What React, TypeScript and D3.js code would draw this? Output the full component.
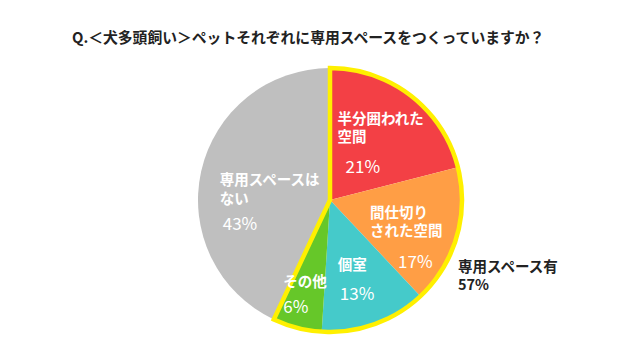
import * as d3 from "d3";
import { useEffect, useRef } from "react";

const categories = [
  ["半分囲われた", "空間"],
  ["間仕切り", "された空間"],
  ["個室"],
  ["その他"],
  ["専用スペースは", "ない"],
];
const values = [21, 17, 13, 6, 43];
const colors = ["#f34045", "#ff9e45", "#45caca", "#66c729", "#bfbfbf"];
// slices that make up the "has space" total (outlined in yellow)
const highlighted = [0, 1, 2, 3];
const highlightLabel = "専用スペース有";
const title = "Q.＜犬多頭飼い＞ペットそれぞれに専用スペースをつくっていますか？";

// label nudges relative to each slice centroid: [nameDx, nameDy, pctDx, pctDy]
const labelNudge = [
  [-41, -20, -33, 28],
  [-36, -11, -8, 38],
  [-19, -11, -17, 18],
  [-27, 4, -27, 29],
  [-33, -4, -30, 40],
];

const W = 640;
const H = 360;
const FONT = "'Noto Sans CJK JP', 'Noto Sans', sans-serif";

export default function App() {
  const svgRef = useRef<SVGSVGElement>(null);

  useEffect(() => {
    const svg = d3.select(svgRef.current);
    svg.selectAll("*").remove();

    const cx = 330;
    const cy = 200;
    const radius = 132;

    svg
      .append("text")
      .attr("x", 72)
      .attr("y", 36)
      .attr("dominant-baseline", "central")
      .attr("font-family", FONT)
      .attr("font-size", 14.8)
      .attr("font-weight", 700)
      .attr("fill", "#222")
      .text(title);

    const pie = d3
      .pie<number>()
      .sort(null)
      .value((d) => d);
    const arcs = pie(values);

    const arcGen = d3.arc<d3.PieArcDatum<number>>().innerRadius(0).outerRadius(radius);
    const labelArc = d3
      .arc<d3.PieArcDatum<number>>()
      .innerRadius(radius * 0.6)
      .outerRadius(radius * 0.6);

    const g = svg.append("g").attr("transform", `translate(${cx}, ${cy})`);

    g.selectAll("path.slice")
      .data(arcs)
      .join("path")
      .attr("class", "slice")
      .attr("d", arcGen)
      .attr("fill", (_, i) => colors[i]);

    // yellow outline around the combined "has space" wedge
    const total = d3.sum(values);
    const hiSum = d3.sum(highlighted, (i) => values[i]);
    const outline = d3
      .arc<d3.DefaultArcObject>()
      .innerRadius(0)
      .outerRadius(radius)({
      innerRadius: 0,
      outerRadius: radius,
      startAngle: 0,
      endAngle: (hiSum / total) * Math.PI * 2,
    } as d3.DefaultArcObject);
    g.append("path")
      .attr("d", outline)
      .attr("fill", "none")
      .attr("stroke", "#fff000")
      .attr("stroke-width", 4.5)
      .attr("stroke-linejoin", "miter");

    // slice labels
    arcs.forEach((a, i) => {
      const [lx, ly] = labelArc.centroid(a);
      const [ndx, ndy, pdx, pdy] = labelNudge[i];
      categories[i].forEach((line, j) => {
        g.append("text")
          .attr("x", lx + ndx)
          .attr("y", ly + ndy + j * 18.5)
          .attr("dominant-baseline", "central")
          .attr("font-family", FONT)
          .attr("font-size", 14.5)
          .attr("font-weight", 700)
          .attr("fill", "#fff")
          .text(line);
      });
      g.append("text")
        .attr("x", lx + pdx)
        .attr("y", ly + pdy)
        .attr("dominant-baseline", "central")
        .attr("font-family", FONT)
        .attr("font-size", 17)
        .attr("font-weight", 400)
        .attr("fill", "#fff")
        .text(`${values[i]}%`);
    });

    // outside total label
    const outer = svg.append("g").attr("font-family", FONT).attr("font-weight", 700).attr("fill", "#222");
    outer
      .append("text")
      .attr("x", 458)
      .attr("y", 265)
      .attr("dominant-baseline", "central")
      .attr("font-size", 14.5)
      .text(highlightLabel);
    outer
      .append("text")
      .attr("x", 458)
      .attr("y", 283)
      .attr("dominant-baseline", "central")
      .attr("font-size", 14.5)
      .text(`${hiSum}%`);
  }, []);

  return (
    <svg
      ref={svgRef}
      width={W}
      height={H}
      style={{ position: "absolute", left: 0, top: 0, background: "#fff" }}
    />
  );
}
